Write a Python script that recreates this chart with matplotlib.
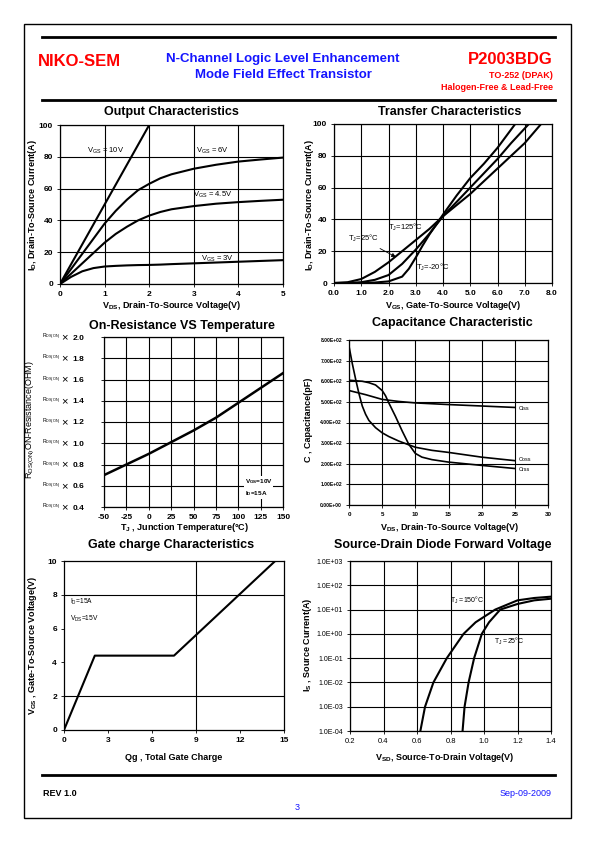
import matplotlib
matplotlib.use("Agg")
import matplotlib.pyplot as plt
import matplotlib.transforms as mtransforms
from matplotlib.lines import Line2D
from matplotlib.patches import Rectangle

plt.rcParams["font.family"] = ["Liberation Sans", "DejaVu Sans"]
plt.rcParams["mathtext.fontset"] = "custom"
plt.rcParams["mathtext.rm"] = "Liberation Sans"
plt.rcParams["mathtext.bf"] = "Liberation Sans:bold"
plt.rcParams["mathtext.it"] = "Liberation Sans:italic"
plt.rcParams["axes.unicode_minus"] = False

# ---- data ----
# output characteristics
vds_10v = [0, 2.0]
id_10v = [0, 100]
vds_out = [0, 0.25, 0.5, 0.75, 1, 1.25, 1.5, 1.75, 2, 2.25, 2.5, 3, 3.5, 4, 4.5, 5]
id_6v = [0, 9.5, 19, 28.5, 38, 46, 53, 59, 63, 66.5, 69, 72.5, 75, 77, 78.3, 79.5]
id_45v = [0, 6.5, 13, 19.5, 26, 31.5, 36, 40, 43, 45.3, 47, 49, 50.5, 51.5, 52.3, 53]
id_3v = [0, 4.5, 8, 10, 11, 11.4, 11.7, 11.9, 12, 12.2, 12.5, 13, 13.5, 14, 14.5, 15]

# transfer characteristics
vgs_125 = [0, 0.5, 1, 1.5, 2, 2.5, 3, 3.5, 4, 4.5, 5, 5.5, 6, 6.5, 7, 7.6]
id_125 = [0, 0.5, 2.5, 7, 13, 20, 27, 34, 42, 49, 56, 64, 72, 80, 88, 100]
vgs_25 = [0, 0.5, 1, 1.5, 2, 2.5, 3, 3.5, 4, 4.5, 5, 5.5, 6, 6.5, 7.15]
id_25 = [0, 0, 0.5, 2, 5, 12, 21, 31, 42, 51, 60, 69, 78, 88, 100]
vgs_m20 = [0, 0.5, 1, 1.5, 2, 2.5, 2.75, 3, 3.25, 3.5, 4, 4.5, 5, 5.5, 6, 6.65]
id_m20 = [0, 0, 0, 0.3, 1, 4, 9, 16, 23.5, 30.5, 43, 55, 66, 75, 85, 100]

# on-resistance vs temperature
tj = [-50, -25, 0, 25, 50, 75, 100, 125, 150]
rds_norm = [0.70, 0.80, 0.90, 1.01, 1.12, 1.24, 1.38, 1.52, 1.66]
rds_ticks = [0.4, 0.6, 0.8, 1.0, 1.2, 1.4, 1.6, 1.8, 2.0]

# capacitance
v_ciss = [0, 2.5, 5, 7.5, 10, 15, 20, 25]
ciss = [555, 535, 512, 502, 495, 487, 480, 473]
v_coss = [0, 0.5, 1, 1.5, 2, 2.5, 3, 4, 5, 6, 7.5, 10, 12.5, 15, 20, 25]
coss = [770, 685, 610, 540, 480, 440, 410, 375, 350, 332, 310, 280, 265, 255, 232, 215]
v_crss = [0, 2, 3, 4, 5, 5.5, 6, 7, 8, 9, 10, 11, 12.5, 15, 20, 25]
crss = [605, 600, 593, 582, 555, 530, 495, 430, 360, 295, 250, 232, 220, 208, 192, 177]

# gate charge
qg = [0, 2.1, 7.5, 14.4]
vgs_qg = [0, 4.4, 4.4, 10]

# source-drain diode
vsd_150 = [0.62, 0.648, 0.698, 0.778, 0.878, 0.95, 1.067, 1.2, 1.3, 1.4]
is_150 = [1e-4, 1e-3, 1e-2, 1e-1, 1, 3, 10, 24, 30, 34]
vsd_25 = [0.872, 0.884, 0.908, 0.941, 0.987, 1.03, 1.097, 1.2, 1.3, 1.4]
is_25 = [1e-4, 1e-3, 1e-2, 1e-1, 1, 3, 10, 17, 24, 28]

W, H = 595, 842
RED = "#ff0000"
BLUE = "#1515ff"
fig = plt.figure(figsize=(W / 100, H / 100), dpi=100)


def box(l, t, r, b):
    return [l / W, 1 - b / H, (r - l) / W, (b - t) / H]


def ftext(x, y, s, **kw):
    kw.setdefault("va", "center")
    fig.text(x / W, 1 - y / H, s, **kw)


def hline(x0, x1, y, lw):
    fig.add_artist(Line2D([x0 / W, x1 / W], [1 - y / H] * 2, color="k", lw=lw,
                          transform=fig.transFigure))


def style(ax, size=6, bold=True, grid=True):
    ax.tick_params(labelsize=size, length=2, width=0.6, direction="out", pad=3)
    for s in ax.spines.values():
        s.set_linewidth(0.9)
    if bold:
        for lab in ax.get_xticklabels() + ax.get_yticklabels():
            lab.set_fontweight("bold")
    if grid:
        ax.grid(True, color="k", lw=0.8)
        ax.set_axisbelow(True)


# ---- page frame / header / footer ----
fig.add_artist(Rectangle((24 / W, 1 - 818 / H), 547 / W, 794 / H, fill=False,
                         lw=1.0, ec="k", transform=fig.transFigure))
hline(42, 555, 37, 2.0)
hline(42, 555, 100, 2.0)
hline(42, 555, 775, 2.0)
ftext(38, 62, "NIKO-SEM", color=RED, fontsize=12, fontweight="bold")
ftext(283, 59, "N-Channel Logic Level Enhancement", color=BLUE, fontsize=9.5,
      fontweight="bold", ha="center")
ftext(283, 75, "Mode Field Effect Transistor", color=BLUE, fontsize=9.5,
      fontweight="bold", ha="center")
ftext(553, 60, "P2003BDG", color=RED, fontsize=12, fontweight="bold", ha="right")
ftext(553, 75, "TO-252 (DPAK)", color=RED, fontsize=6.5, fontweight="bold", ha="right")
ftext(553, 87, "Halogen-Free & Lead-Free", color=RED, fontsize=6.5,
      fontweight="bold", ha="right")
ftext(43, 793, "REV 1.0", fontsize=6.5, fontweight="bold")
ftext(552, 793, "Sep-09-2009", color=BLUE, fontsize=6.5, ha="right")
ftext(297, 808, "3", color=BLUE, fontsize=6.5, ha="center")

TK = dict(fontsize=9, fontweight="bold", ha="center")
LB = dict(fontsize=6.5, fontweight="bold", ha="center")

# ---- Output Characteristics ----
ax1 = fig.add_axes(box(60, 125, 283, 284))
for xs, ys in [(vds_10v, id_10v), (vds_out, id_6v), (vds_out, id_45v), (vds_out, id_3v)]:
    ax1.plot(xs, ys, color="k", lw=1.5, solid_joinstyle="round")
ax1.set_xlim(0, 5)
ax1.set_ylim(0, 100)
ax1.set_xticks(range(0, 6))
ax1.set_yticks(range(0, 101, 20))
style(ax1)
ax1.text(0.6, 84, r"V$_{\mathregular{GS}}$ = 10V", fontsize=5.5, va="center")
ax1.text(3.06, 84, r"V$_{\mathregular{GS}}$ = 6V", fontsize=5.5, va="center")
ax1.text(2.98, 56, r"V$_{\mathregular{GS}}$ = 4.5V", fontsize=5.5, va="center")
ax1.text(3.17, 16, r"V$_{\mathregular{GS}}$ = 3V", fontsize=5.5, va="center")
ftext(171, 112, "Output Characteristics", **TK)
ftext(172, 306, r"V$_{\mathbf{DS}}$, Drain-To-Source Voltage(V)", **LB)
ftext(33, 205, r"I$_{\mathbf{D}}$, Drain-To-Source Current(A)", rotation=90, **LB)

# ---- Transfer Characteristics ----
ax2 = fig.add_axes(box(334, 124, 552, 283))
for xs, ys in [(vgs_125, id_125), (vgs_25, id_25), (vgs_m20, id_m20)]:
    ax2.plot(xs, ys, color="k", lw=1.5, solid_joinstyle="round")
ax2.set_xlim(0, 8)
ax2.set_ylim(0, 100)
ax2.set_xticks(range(0, 9))
ax2.set_xticklabels([f"{v:.1f}" for v in range(0, 9)])
ax2.set_yticks(range(0, 101, 20))
style(ax2)
ax2.text(2.0, 35, r"T$_{\mathregular{J}}$=125°C", fontsize=5.5, va="center")
ax2.text(0.5, 28, r"T$_{\mathregular{J}}$=25°C", fontsize=5.5, va="center")
ax2.text(3.0, 10, r"T$_{\mathregular{J}}$=-20°C", fontsize=5.5, va="center")
ax2.annotate("", xy=(2.36, 15.5), xytext=(1.6, 22.5),
             arrowprops=dict(arrowstyle="-|>", color="k", lw=0.6, mutation_scale=6))
ftext(450, 112, "Transfer Characteristics", **TK)
ftext(453, 306, r"V$_{\mathbf{GS}}$, Gate-To-Source Voltage(V)", **LB)
ftext(309, 205, r"I$_{\mathbf{D}}$, Drain-To-Source Current(A)", rotation=90, **LB)

# ---- On-Resistance VS Temperature ----
ax3 = fig.add_axes(box(104, 337, 283, 507))
ax3.plot(tj, rds_norm, color="k", lw=1.8)
ax3.set_xlim(-50, 150)
ax3.set_ylim(0.4, 2.0)
ax3.set_xticks(range(-50, 151, 25))
ax3.set_yticks(rds_ticks)
ax3.set_yticklabels([f"{v:.1f}" for v in rds_ticks])
style(ax3)
ax3.tick_params(axis="y", pad=12)
trans3 = mtransforms.blended_transform_factory(fig.transFigure, ax3.transData)
for v in rds_ticks:
    ax3.text(42 / W, v, r"R$_{\mathregular{DS(ON)}}$", fontsize=3.8, va="center",
             transform=trans3)
    ax3.text(61 / W, v, "×", fontsize=8, va="center", transform=trans3)
ax3.text(107, 0.585, "V$_{\\mathregular{GS}}$=10V\nI$_{\\mathregular{D}}$=15A",
         fontsize=4.6, va="center", fontweight="bold", linespacing=1.6,
         bbox=dict(fc="white", ec="none", pad=0.5))
ftext(182, 326, "On-Resistance VS Temperature", **TK)
ftext(185, 528, r"T$_{\mathbf{J}}$ , Junction Temperature(°C)", **LB)
ftext(30, 420, r"R$_{\mathregular{DS(ON)}}$ON-Resistance(OHM)", rotation=90,
      fontsize=6.5, ha="center")

# ---- Capacitance Characteristic ----
ax4 = fig.add_axes(box(349, 340, 548, 505))
for xs, ys in [(v_ciss, ciss), (v_coss, coss), (v_crss, crss)]:
    ax4.plot(xs, ys, color="k", lw=1.2, solid_joinstyle="round")
ax4.set_xlim(0, 30)
ax4.set_ylim(0, 800)
ax4.set_xticks(range(0, 31, 5))
ax4.set_yticks(range(0, 801, 100))
ax4.set_yticklabels([f"{v:.2E}" for v in range(0, 801, 100)])
style(ax4, size=4.5)
ax4.tick_params(axis="y", labelsize=3.6)
ax4.text(25.6, 470, "Ciss", fontsize=4, va="center")
ax4.text(25.6, 221, "Coss", fontsize=4, va="center")
ax4.text(25.6, 172, "Crss", fontsize=4, va="center")
ftext(452, 323, "Capacitance Characteristic", **TK)
ftext(450, 528, r"V$_{\mathbf{DS}}$, Drain-To-Source Voltage(V)", **LB)
ftext(308, 420, "C , Capacitance(pF)", rotation=90, **LB)

# ---- Gate charge Characteristics ----
ax5 = fig.add_axes(box(64, 561, 284, 730))
ax5.plot(qg, vgs_qg, color="k", lw=1.5)
ax5.set_xlim(0, 15)
ax5.set_ylim(0, 10)
ax5.set_xticks(range(0, 16, 3))
ax5.set_yticks(range(0, 11, 2))
style(ax5, grid=False)
ax5.axvline(9, color="k", lw=0.8)
ax5.axhline(2, color="k", lw=0.8)
ax5.axhline(8, color="k", lw=0.8)
ax5.text(0.41, 7.6, r"I$_{\mathregular{D}}$=15A", fontsize=4.8, va="center")
ax5.text(0.41, 6.6, r"V$_{\mathregular{DS}}$=15V", fontsize=4.8, va="center")
ftext(171, 545, "Gate charge Characteristics", **TK)
ftext(174, 757, "Qg , Total Gate Charge", **LB)
ftext(33, 645, r"V$_{\mathbf{GS}}$ , Gate-To-Source Voltage(V)", rotation=90, **LB)

# ---- Source-Drain Diode Forward Voltage ----
ax6 = fig.add_axes(box(350, 561, 551, 731))
ax6.semilogy(vsd_150, is_150, color="k", lw=1.5, solid_joinstyle="round")
ax6.semilogy(vsd_25, is_25, color="k", lw=1.5, solid_joinstyle="round")
ax6.set_xlim(0.2, 1.4)
ax6.set_ylim(1e-4, 1e3)
dec = [10.0 ** k for k in range(-4, 4)]
vsd_ticks = [0.2, 0.4, 0.6, 0.8, 1.0, 1.2, 1.4]
ax6.set_xticks(vsd_ticks)
ax6.set_xticklabels([f"{v:.1f}" for v in vsd_ticks])
ax6.set_yticks(dec)
ax6.set_yticklabels([f"{v:.1E}" for v in dec])
ax6.minorticks_off()
style(ax6, size=5.5, bold=False)
ax6.tick_params(axis="y", labelsize=5)
ax6.text(0.8, 25, r"T$_{\mathregular{J}}$ =150°C", fontsize=5, va="center")
ax6.text(1.06, 0.5, r"T$_{\mathregular{J}}$ =25°C", fontsize=5, va="center")
ftext(443, 545, "Source-Drain Diode Forward Voltage", **TK)
ftext(445, 757, r"V$_{\mathbf{SD}}$, Source-To-Drain Voltage(V)", **LB)
ftext(307, 645, r"I$_{\mathbf{S}}$ , Source Current(A)", rotation=90, **LB)

fig.savefig("out.png", dpi=100)
